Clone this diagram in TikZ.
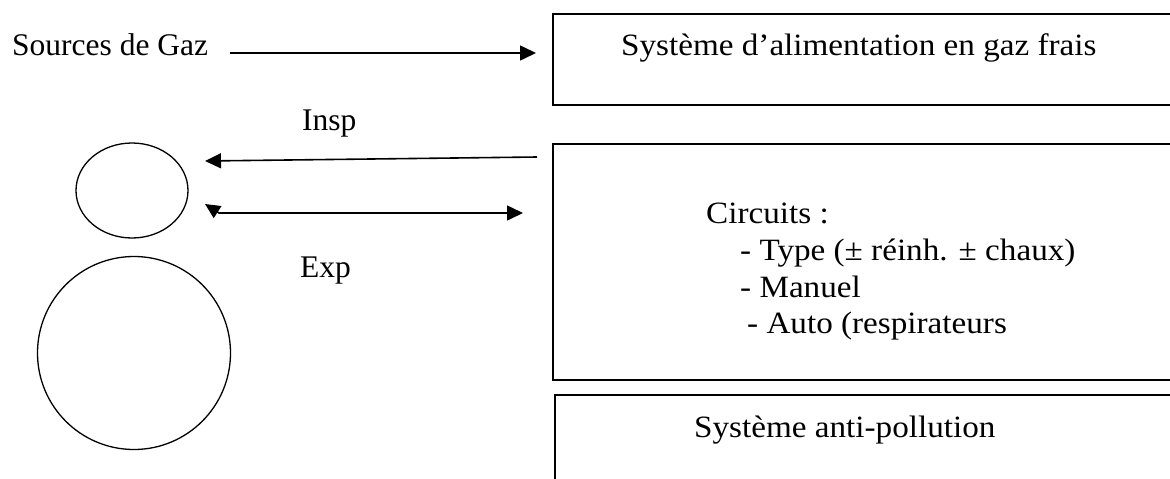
\documentclass[tikz,border=0pt]{standalone}
\usepackage{fontspec}
\setmainfont{Liberation Serif}
\newfontfamily\boxfont[FakeStretch=1.07]{Liberation Serif}
\usetikzlibrary{arrows.meta,shapes.geometric}
\begin{document}
\begin{tikzpicture}[x=1pt,y=-1pt,
  lbl/.style={font=\fontsize{31.5}{38}\selectfont, inner sep=0pt, anchor=base west},
  btxt/.style={font=\boxfont\fontsize{31}{37}\selectfont, inner sep=0pt, anchor=base west},
  boxe/.style={draw, line width=2pt, anchor=north west, inner sep=0pt, minimum width=680pt},
  lung/.style={draw, line width=1.3pt, inner sep=0pt},
  arr/.style={line width=1.6pt, -{Triangle[length=16pt,width=15pt]}},
  arrb/.style={line width=1.6pt, {Triangle[length=15pt,width=14pt]}-{Triangle[length=16pt,width=15pt]}},
]
\clip (0,0) rectangle (1170,479);
\fill[white] (0,0) rectangle (1170,479);
% boxes
\node[boxe, minimum height=91pt] (feed) at (552,13) {};
\node[boxe, minimum height=236pt] (circ) at (552,143) {};
\node[boxe, minimum height=120pt] (anti) at (554,394) {};
% box texts
\node[btxt] (feedtxt) at (621,55) {Système d’alimentation en gaz frais};
\node[btxt] (c0) at (706,223) {Circuits :};
\node[btxt] (c1) at (740,260) {- Type (± réinh. ± chaux)};
\node[btxt] (c2) at (740,297) {- Manuel};
\node[btxt] (c3) at (747,333) {- Auto (respirateurs};
\node[btxt] (antitxt) at (694,437) {Système anti-pollution};
% left labels
\node[lbl] (src) at (12,55) {Sources de Gaz};
\node[lbl] (insp) at (302,130) {Insp};
\node[lbl] (exp) at (300,277) {Exp};
% lungs
\node[lung, ellipse, minimum width=112pt, minimum height=95pt] (small) at (132,190.5) {};
\node[lung, circle, minimum size=193pt] (big) at (134,353) {};
% connectors
\coordinate (srcA) at (230,53);
\coordinate (srcB) at (536,53);
\draw[arr] (srcA) -- (srcB);
\coordinate (inspA) at (537,157);
\coordinate (inspB) at (205,161);
\draw[arr] (inspA) -- (inspB);
\coordinate (expA) at (205,204);
\coordinate (expK) at (219,213);
\coordinate (expB) at (523,213);
\draw[arrb] (expA) -- (expK) -- (expB);
\end{tikzpicture}
\end{document}
